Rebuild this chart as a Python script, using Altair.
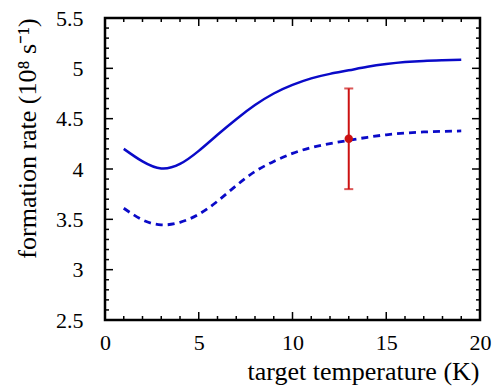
import altair as alt
import pandas as pd

# solid curve
solid_x = [1, 2, 3, 4, 5, 6, 7, 8, 9, 10, 11, 12, 13, 14, 15, 16, 17, 18, 19]
solid_y = [4.20, 4.075, 4.005, 4.05, 4.18, 4.34, 4.495, 4.635, 4.75, 4.835, 4.90, 4.945,
           4.98, 5.015, 5.042, 5.062, 5.074, 5.08, 5.085]
# dashed curve
dash_x = [1, 2, 3, 4, 5, 6, 7, 8, 9, 10, 11, 12, 13, 14, 15, 16, 17, 18, 19]
dash_y = [3.61, 3.495, 3.445, 3.47, 3.55, 3.68, 3.835, 3.975, 4.075, 4.155, 4.212, 4.252,
          4.285, 4.315, 4.34, 4.357, 4.368, 4.374, 4.378]
# measured point
pt_x = [13.0]
pt_y = [4.3]
pt_lo = [3.8]
pt_hi = [4.8]

x_major = [0, 5, 10, 15, 20]
x_minor = [v for v in range(0, 21) if v % 5 != 0]
y_major = [2.5, 3.0, 3.5, 4.0, 4.5, 5.0, 5.5]
y_minor = [round(2.5 + 0.1 * i, 1) for i in range(31) if i % 5 != 0]

W, H = 375, 302
FONT = "Liberation Serif"
BLUE = "#0a0ac8"
RED = "#cc1111"
YTITLE = "formation rate (10⁸ s⁻¹)"
XTITLE = "target temperature (K)"

xs = alt.Scale(domain=[0, 20], nice=False)
ys = alt.Scale(domain=[2.5, 5.5], nice=False)

solid_df = pd.DataFrame({"x": solid_x, "y": solid_y})
dash_df = pd.DataFrame({"x": dash_x, "y": dash_y})
pt_df = pd.DataFrame({"x": pt_x, "y": pt_y, "lo": pt_lo, "hi": pt_hi})

base_axes = alt.Chart(pd.DataFrame({"x": [0], "y": [2.5]})).mark_point(opacity=0).encode(
    x=alt.X("x:Q", scale=xs, title=XTITLE, axis=alt.Axis(
        values=x_major, format="d", labelPadding=12, labelFlush=False,
        titleX=258, titleY=59, titleBaseline="alphabetic", titleAlign="center",
        ticks=False, domain=False, grid=False)),
    y=alt.Y("y:Q", scale=ys, title=YTITLE, axis=alt.Axis(
        values=y_major, format=".1~f", labelPadding=22, labelFlush=False,
        titleX=-70, titleY=120, titleBaseline="alphabetic", titleAlign="center", titleAngle=270,
        ticks=False, domain=False, grid=False)),
)

def xticks(vals, length):
    df = pd.DataFrame({"v": vals})
    bot = alt.Chart(df).mark_rule(color="black", strokeWidth=1.5).encode(
        x=alt.X("v:Q", scale=xs, title=XTITLE), y=alt.value(H), y2=alt.value(H - length))
    top = alt.Chart(df).mark_rule(color="black", strokeWidth=1.5).encode(
        x=alt.X("v:Q", scale=xs, title=XTITLE), y=alt.value(0), y2=alt.value(length))
    return [bot, top]

def yticks(vals, length):
    df = pd.DataFrame({"v": vals})
    left = alt.Chart(df).mark_rule(color="black", strokeWidth=1.5).encode(
        y=alt.Y("v:Q", scale=ys, title=YTITLE), x=alt.value(0), x2=alt.value(length))
    right = alt.Chart(df).mark_rule(color="black", strokeWidth=1.5).encode(
        y=alt.Y("v:Q", scale=ys, title=YTITLE), x=alt.value(W), x2=alt.value(W - length))
    return [left, right]

solid = alt.Chart(solid_df).mark_line(color=BLUE, strokeWidth=2.5, interpolate="natural").encode(
    x=alt.X("x:Q", scale=xs, title=XTITLE), y=alt.Y("y:Q", scale=ys, title=YTITLE))
dashed = alt.Chart(dash_df).mark_line(color=BLUE, strokeWidth=2.8, strokeDash=[7, 5], interpolate="natural").encode(
    x=alt.X("x:Q", scale=xs, title=XTITLE), y=alt.Y("y:Q", scale=ys, title=YTITLE))
err = alt.Chart(pt_df).mark_errorbar(ticks=alt.MarkConfig(size=9, color=RED, strokeWidth=2), color=RED, thickness=2).encode(
    x=alt.X("x:Q", scale=xs, title=XTITLE), y=alt.Y("lo:Q", scale=ys, title=YTITLE), y2="hi:Q")
dot = alt.Chart(pt_df).mark_circle(color=RED, size=70, opacity=1).encode(
    x=alt.X("x:Q", scale=xs, title=XTITLE), y=alt.Y("y:Q", scale=ys, title=YTITLE))

layers = [base_axes] + xticks(x_major, 8) + xticks(x_minor, 4) + yticks(y_major, 8) + yticks(y_minor, 4) + [solid, dashed, err, dot]

chart = alt.layer(*layers).properties(
    width=W, height=H,
    autosize=alt.AutoSizeParams(type="none"),
    padding={"left": 105, "top": 18, "right": 12, "bottom": 71},
).configure(
    background="white", font=FONT
).configure_view(
    stroke="black", strokeWidth=2.5
).configure_axis(
    labelFont=FONT, labelFontSize=22, labelColor="black",
    titleFont=FONT, titleFontSize=26, titleFontWeight="normal", titleColor="black",
)

chart.save("out.html", embed_options={"renderer": "svg", "actions": False})
